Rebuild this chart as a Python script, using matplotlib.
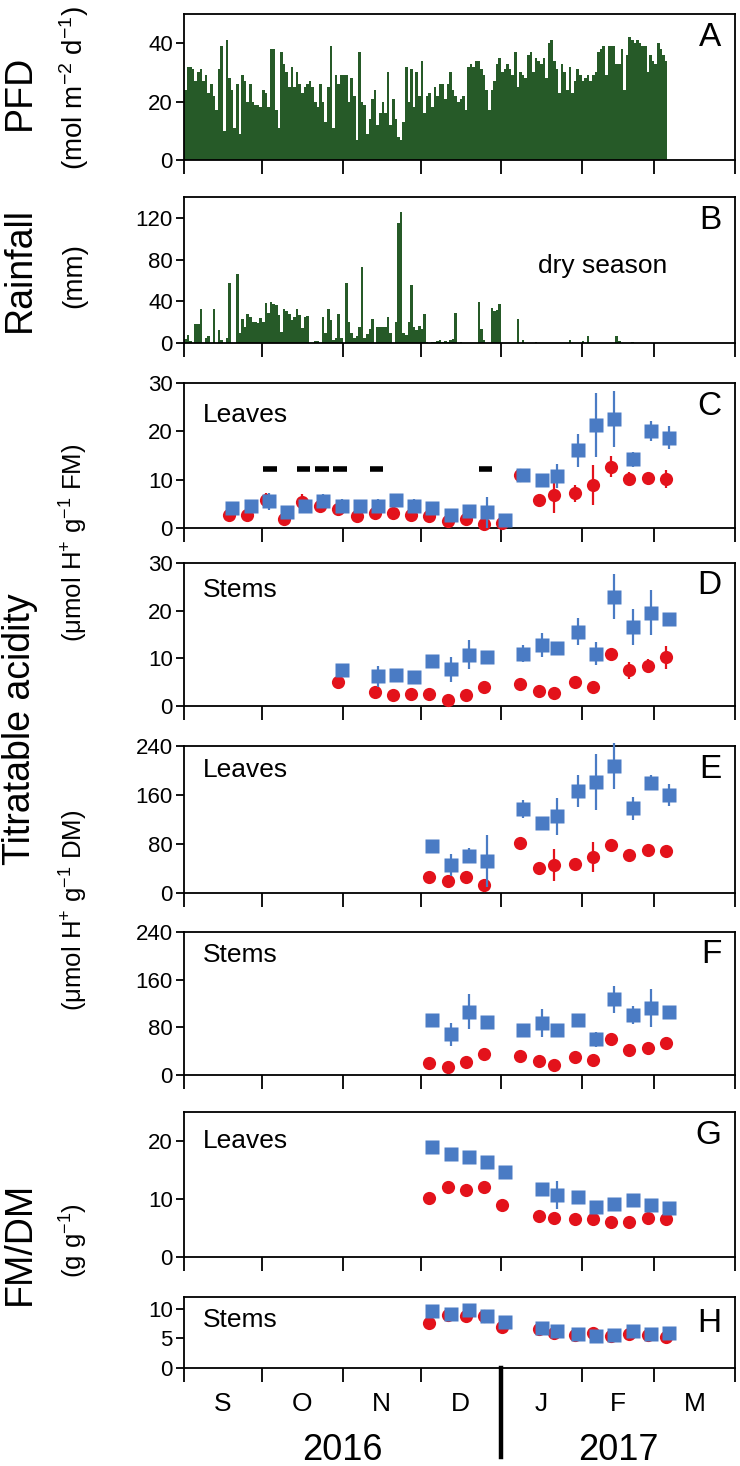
import matplotlib
matplotlib.use("Agg")
import matplotlib.pyplot as plt
from matplotlib.transforms import blended_transform_factory
import numpy as np

plt.rcParams['font.family'] = ['Liberation Sans', 'DejaVu Sans']
plt.rcParams['mathtext.fontset'] = 'custom'
plt.rcParams['mathtext.rm'] = 'Liberation Sans'
plt.rcParams['mathtext.it'] = 'Liberation Sans'

# ---------------- data ----------------
# days since 1 Sep 2016
month_edges = [0, 30, 61, 91, 122, 153, 181, 212]
month_labels = ['S', 'O', 'N', 'D', 'J', 'F', 'M']
year_labels = ['2016', '2017']

pfd = [24, 32, 32, 31, 27, 30, 31, 27, 29, 23, 26,
       22, 17, 31, 39, 10, 41, 28, 24, 11, 26, 9,
       29, 27, 20, 26, 20, 19, 19, 18, 24, 23, 18,
       38, 38, 17, 11, 37, 33, 30, 25, 32, 25, 30,
       26, 23, 25, 26, 27, 25, 20, 18, 26, 20, 13,
       25, 39, 11, 29, 26, 29, 29, 29, 20, 28, 22,
       7, 37, 20, 19, 9, 14, 21, 24, 12, 16, 20,
       16, 30, 12, 21, 14, 8, 7, 13, 32, 20, 31,
       18, 30, 22, 34, 16, 22, 23, 18, 25, 22, 26,
       26, 21, 26, 30, 24, 22, 20, 21, 22, 17, 32,
       33, 32, 34, 34, 31, 29, 24, 17, 24, 27, 33,
       35, 30, 31, 33, 31, 29, 37, 25, 30, 29, 28,
       36, 37, 30, 35, 34, 33, 35, 28, 40, 41, 34,
       31, 23, 33, 30, 24, 32, 23, 27, 31, 29, 27,
       28, 29, 27, 29, 30, 37, 38, 39, 29, 39, 39,
       39, 33, 33, 38, 24, 36, 42, 41, 40, 41, 40,
       39, 39, 30, 36, 34, 33, 40, 38, 36, 34]

rain = [4, 8, 2, 0, 18, 18, 33, 0, 5, 7,
        0, 33, 0, 12, 3, 0, 5, 58, 0, 0,
        66, 10, 23, 15, 28, 25, 20, 20, 19, 24,
        20, 38, 29, 39, 37, 36, 27, 11, 33, 31,
        28, 22, 25, 33, 27, 14, 25, 26, 0, 0,
        2, 2, 0, 25, 10, 33, 22, 3, 5, 28,
        5, 0, 58, 20, 10, 5, 7, 15, 73, 5,
        9, 13, 23, 0, 15, 15, 15, 15, 25, 10,
        0, 20, 115, 126, 10, 8, 20, 56, 15, 12,
        16, 13, 28, 1, 0, 1, 1, 2, 3, 1,
        2, 1, 3, 4, 29, 0, 1, 0, 0, 0,
        0, 0, 0, 39, 13, 3, 0, 0, 34, 31,
        32, 37, 0, 0, 0, 0, 0, 0, 23, 0,
        3, 0, 0, 0, 0, 1, 0, 0, 0, 0,
        0, 0, 0, 0, 0, 0, 0, 0, 3, 0,
        0, 0, 0, 2, 0, 7, 0, 0, 0, 0,
        0, 0, 0, 0, 0, 0, 7, 2, 0, 0,
        0, 0, 1, 0, 0, 0, 0, 0, 0, 0,
        0, 0, 0, 0, 0, 0, 0]

# sampling dates
dates_C = [18, 25, 32, 39, 46, 53, 60, 67, 74, 81, 88, 95, 102, 109, 116, 123,
           130, 137, 143, 151, 158, 165, 172, 179, 186]
dates_D = [60, 74, 81, 88, 95, 102, 109, 116, 130, 137, 143, 151, 158, 165, 172, 179, 186]
dates_EF = [95, 102, 109, 116, 130, 137, 143, 151, 158, 165, 172, 179, 186]
dates_GH = [95, 102, 109, 116, 123, 137, 143, 151, 158, 165, 172, 179, 186]

# C: leaves, FM basis (blue = squares, red = circles)
C_blue = [4.1, 4.6, 5.5, 3.4, 4.5, 5.6, 4.6, 4.5, 4.6, 5.8, 4.6, 4.1, 2.7, 3.6, 3.3, 1.7,
          11.0, 10.0, 10.8, 16.1, 21.3, 22.6, 14.2, 20.1, 18.7]
C_blue_err = [0.5, 0.5, 1.8, 1.0, 0.5, 1.5, 1.3, 0.5, 1.3, 0.5, 1.3, 0.5, 0.8, 0.5, 3.2, 0.5,
              1.2, 0.6, 2.5, 3.4, 6.6, 5.8, 1.5, 2.0, 2.4]
C_red = [2.7, 2.6, 5.8, 1.9, 5.3, 4.5, 3.9, 2.4, 3.2, 3.1, 2.7, 2.4, 1.5, 1.9, 0.9, 1.0,
         11.0, 5.7, 6.8, 7.2, 8.9, 12.7, 10.2, 10.3, 10.1]
C_red_err = [1.2, 0.5, 1.5, 0.5, 1.8, 0.5, 0.5, 0.5, 0.5, 0.5, 0.5, 0.5, 0.5, 0.5, 0.5, 0.5,
             1.2, 0.5, 3.7, 1.8, 4.1, 2.2, 1.4, 0.5, 1.8]
sig_dates_C = [33, 46, 53, 60, 74, 116]
sig_level_C = 12.3

# D: stems, FM basis
D_blue = [7.5, 6.2, 6.5, 6.0, 9.5, 7.7, 10.8, 10.2, 11.0, 12.8, 12.1, 15.6, 11.0, 22.9, 16.5, 19.6, 18.3]
D_blue_err = [0.5, 2.2, 1.3, 0.5, 0.5, 2.6, 3.0, 0.5, 1.8, 2.5, 1.3, 2.8, 2.4, 4.7, 3.8, 4.8, 1.3]
D_red = [5.0, 3.0, 2.3, 2.5, 2.5, 1.3, 2.3, 3.9, 4.6, 3.2, 2.7, 5.0, 3.9, 11.0, 7.5, 8.4, 10.2]
D_red_err = [1.4, 0.5, 0.5, 0.5, 0.5, 0.5, 0.5, 0.5, 0.5, 0.5, 0.5, 1.1, 1.1, 0.5, 1.8, 1.5, 2.4]

# E: leaves, DM basis
E_blue = [76, 46, 61, 52, 137, 114, 125, 166, 181, 207, 138, 180, 160]
E_blue_err = [3, 18, 12, 42, 15, 6, 30, 26, 46, 38, 19, 12, 18]
E_red = [26, 19, 26, 12.5, 81, 41, 46, 47, 59, 79, 62, 70, 68]
E_red_err = [3, 5, 3, 3, 3, 3, 26, 10, 24, 9, 10, 3, 3]

# F: stems, DM basis
F_blue = [92, 68, 106.5, 88.5, 75.5, 87.5, 75.5, 92, 60, 127, 100, 112, 105.5]
F_blue_err = [3, 20, 30, 8, 3, 24, 8, 10, 13, 23, 15, 32, 3]
F_red = [20, 14, 21, 34.5, 32, 23, 17, 30, 24.5, 60, 42.5, 45, 54.5]
F_red_err = [3, 3, 3, 3, 3, 3, 3, 3, 3, 3, 7, 3, 9]

# G: leaves FM/DM
G_blue = [19.0, 17.8, 17.2, 16.4, 14.7, 11.7, 10.7, 10.3, 8.6, 9.2, 9.8, 9.0, 8.4]
G_blue_err = [0.3, 0.3, 0.3, 1.0, 0.3, 0.3, 2.4, 0.3, 0.6, 0.3, 0.3, 0.3, 0.3]
G_red = [10.2, 12.0, 11.6, 12.1, 8.9, 7.0, 6.7, 6.6, 6.6, 6.1, 6.1, 6.8, 6.6]
G_red_err = [0.3] * 13

# H: stems FM/DM
H_blue = [9.7, 9.1, 9.8, 8.8, 7.7, 6.8, 6.2, 5.8, 5.4, 5.5, 6.2, 5.8, 5.9]
H_red = [7.6, 8.9, 8.8, 8.8, 6.9, 6.6, 6.0, 5.6, 6.0, 5.4, 5.8, 5.5, 5.3]

# ---------------- style ----------------
GREEN = '#265a28'
BLUE = '#4a7bc4'
RED = '#e3121b'
FS_TICK = 16
FS_BIG = 27
FS_UNIT = 18.5
FS_LETTER = 24
FS_TXT = 19

W, H = 740, 1466
fig = plt.figure(figsize=(W / 100, H / 100), dpi=100)

left_px, right_px = 184, 735
panels = [(14, 160), (197, 343), (383, 528), (563, 706),
          (746, 893), (932, 1075), (1112, 1257), (1297, 1368)]


def make_ax(top, bot):
    ax = fig.add_axes([left_px / W, 1 - bot / H, (right_px - left_px) / W, (bot - top) / H])
    ax.set_xlim(0, 212)
    ax.set_xticks(month_edges)
    ax.set_xticklabels([])
    ax.tick_params(axis='x', direction='out', length=10, width=1.3)
    ax.tick_params(axis='y', direction='out', length=6, width=1.3, labelsize=FS_TICK, pad=2)
    for s in ax.spines.values():
        s.set_linewidth(1.3)
    return ax


axes = [make_ax(t, b) for t, b in panels]
axA, axB, axC, axD, axE, axF, axG, axH = axes

# A: PFD
days_pfd = np.arange(len(pfd))
axA.bar(days_pfd, pfd, width=1.0, align='edge', color=GREEN, linewidth=0)
axA.set_ylim(0, 50)
axA.set_yticks([0, 20, 40])

# B: rainfall
days_rain = np.arange(len(rain))
axB.bar(days_rain, rain, width=1.0, align='edge', color=GREEN, linewidth=0)
axB.set_ylim(0, 140)
axB.set_yticks([0, 40, 80, 120])
axB.text(0.76, 0.53, 'dry season', transform=axB.transAxes, ha='center', va='center',
         fontsize=FS_TXT)


def pts(ax, dates, blue, red, berr=None, rerr=None):
    d = np.asarray(dates, dtype=float)
    ax.errorbar(d - 0.6, red, yerr=rerr, fmt='o', color=RED, ms=9.5, mec='none',
                elinewidth=1.6, capsize=0, zorder=3, clip_on=False)
    ax.errorbar(d + 0.6, blue, yerr=berr, fmt='s', color=BLUE, ms=10, mec='none',
                elinewidth=1.6, capsize=0, zorder=4, clip_on=False)


pts(axC, dates_C, C_blue, C_red, C_blue_err, C_red_err)
axC.set_ylim(0, 30)
axC.set_yticks([0, 10, 20, 30])
for d in sig_dates_C:
    axC.plot([d - 2.6, d + 2.6], [sig_level_C, sig_level_C], color='black', lw=4,
             solid_capstyle='butt', zorder=2)

pts(axD, dates_D, D_blue, D_red, D_blue_err, D_red_err)
axD.set_ylim(0, 30)
axD.set_yticks([0, 10, 20, 30])

pts(axE, dates_EF, E_blue, E_red, E_blue_err, E_red_err)
axE.set_ylim(0, 240)
axE.set_yticks([0, 80, 160, 240])

pts(axF, dates_EF, F_blue, F_red, F_blue_err, F_red_err)
axF.set_ylim(0, 240)
axF.set_yticks([0, 80, 160, 240])

pts(axG, dates_GH, G_blue, G_red, G_blue_err, G_red_err)
axG.set_ylim(0, 25)
axG.set_yticks([0, 10, 20])

pts(axH, dates_GH, H_blue, H_red)
axH.set_ylim(0, 12)
axH.set_yticks([0, 5, 10])

# panel letters
for ax, letter in zip(axes, 'ABCDEFGH'):
    yl = 0.84 if letter != 'H' else 0.62
    ax.text(0.975, yl, letter, transform=ax.transAxes, ha='right', va='center',
            fontsize=FS_LETTER)

# organ labels
for ax, lab, yl in [(axC, 'Leaves', 0.78), (axD, 'Stems', 0.81), (axE, 'Leaves', 0.84),
                    (axF, 'Stems', 0.84), (axG, 'Leaves', 0.8), (axH, 'Stems', 0.67)]:
    ax.text(0.035, yl, lab, transform=ax.transAxes, ha='left', va='center', fontsize=FS_TXT)

# month labels & years
mid = [(month_edges[i] + month_edges[i + 1]) / 2 for i in range(7)]
tr = blended_transform_factory(axH.transData, fig.transFigure)
for m, lab in zip(mid, month_labels):
    fig.text(m, 1 - 1404 / H, lab, transform=tr, ha='center', va='center', fontsize=FS_TXT)
fig.text(61, 1 - 1450 / H, year_labels[0], transform=tr, ha='center', va='center', fontsize=FS_BIG - 1)
fig.text(167, 1 - 1450 / H, year_labels[1], transform=tr, ha='center', va='center', fontsize=FS_BIG - 1)
fig.add_artist(plt.Line2D([122, 122], [1 - 1368 / H, 1 - 1457 / H], transform=tr,
                          color='black', lw=3.2))

# y labels
def ylab(x_px, yc_px, s, fs):
    fig.text(x_px / W, 1 - yc_px / H, s, rotation=90, ha='center', va='center', fontsize=fs)

ylab(20, 92, 'PFD', FS_BIG)
ylab(74, 88, r'(mol m$^{-2}$ d$^{-1}$)', FS_UNIT + 1.5)
ylab(20, 270, 'Rainfall', FS_BIG)
ylab(74, 276, '(mm)', FS_UNIT + 1.5)
ylab(20, 729, 'Titratable acidity', FS_BIG)
ylab(74, 543, r'($\mu$mol H$^{+}$ g$^{-1}$ FM)', FS_UNIT)
ylab(74, 910, r'($\mu$mol H$^{+}$ g$^{-1}$ DM)', FS_UNIT)
ylab(20, 1243, 'FM/DM', FS_BIG)
ylab(74, 1241, r'(g g$^{-1}$)', FS_UNIT)

fig.savefig('out.png', dpi=100)
